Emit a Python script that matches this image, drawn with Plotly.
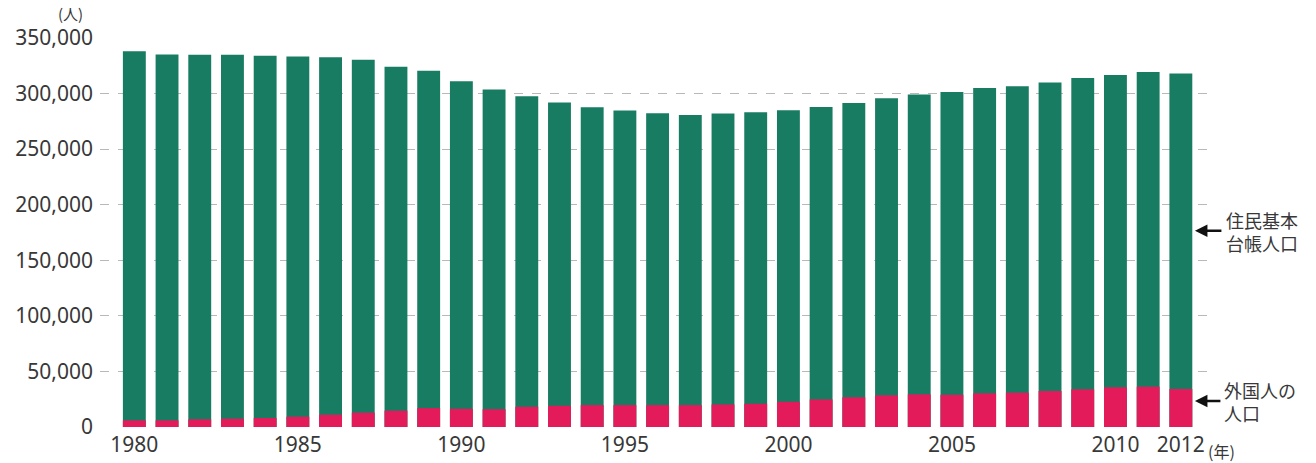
import plotly.graph_objects as go

years = list(range(1980, 2013))
total_pop = [338000, 335200, 335000, 335000, 334000, 333400, 332700, 330400, 324100, 320500,
             311100, 303600, 297600, 291900, 287700, 284700, 282300, 280800, 282000, 283200,
             285000, 288000, 291600, 295800, 299100, 301500, 305100, 306600, 309900, 314100,
             316800, 319500, 318100]
foreign_pop = [6000, 6000, 6900, 7500, 8100, 9300, 11100, 12900, 14700, 17000,
               16400, 16000, 18200, 19100, 19700, 19700, 19700, 19700, 20300, 20900,
               22700, 24800, 26700, 28500, 29400, 29000, 30300, 30900, 32400, 33900,
               35700, 36300, 34200]
x_tickvals = [1980, 1985, 1990, 1995, 2000, 2005, 2010, 2012]
y_tickvals = [0, 50000, 100000, 150000, 200000, 250000, 300000, 350000]

GREEN = "#187c62"
PINK = "#e31b5b"
TEXT = "#383838"
NUM_FONT = "Noto Sans"
JP_FONT = "Noto Sans CJK JP"

fig = go.Figure()
fig.add_trace(go.Bar(x=years, y=total_pop, marker=dict(color=GREEN, line=dict(width=0)),
                     width=0.7, name="住民基本台帳人口"))
fig.add_trace(go.Bar(x=years, y=foreign_pop, marker=dict(color=PINK, line=dict(width=0)),
                     width=0.7, name="外国人の人口"))

fig.update_layout(
    width=1316, height=463,
    barmode="overlay",
    showlegend=False,
    plot_bgcolor="white", paper_bgcolor="white",
    margin=dict(l=100, r=108, t=38, b=36, autoexpand=False),
    font=dict(family=NUM_FONT, color=TEXT, size=21),
)
fig.update_xaxes(
    range=[1978.95, 2012.83],
    tickvals=x_tickvals, ticktext=[str(v) for v in x_tickvals],
    showgrid=False, zeroline=False, showline=False, ticks="",
    tickfont=dict(family=NUM_FONT, size=21, color=TEXT),
    ticklabelstandoff=3, automargin=False,
)
fig.update_yaxes(
    range=[0, 350000],
    tickvals=y_tickvals, tickformat=",d",
    showgrid=True, gridcolor="#b8b8b8", gridwidth=1, griddash="dash",
    zeroline=False, showline=False, ticks="",
    tickfont=dict(family=NUM_FONT, size=21, color=TEXT),
    ticklabelstandoff=6, automargin=False,
)

annots = [
    dict(text="(人)", xref="paper", yref="paper", x=-0.027, y=1.0, xanchor="center",
         yanchor="bottom", yshift=12, showarrow=False, font=dict(family=JP_FONT, size=15, color=TEXT)),
    dict(text="(年)", xref="paper", yref="paper", x=0.9985, y=0, xanchor="left",
         yanchor="top", yshift=-10, showarrow=False, font=dict(family=JP_FONT, size=16, color=TEXT)),
    dict(text="住民基本<br>台帳人口", xref="paper", yref="y", x=1.0145, y=176000, xanchor="left",
         yanchor="middle", align="left", showarrow=False,
         font=dict(family=JP_FONT, size=18, color=TEXT)),
    dict(text="外国人の<br>人口", xref="paper", yref="y", x=1.0125, y=22500, xanchor="left",
         yanchor="middle", align="left", showarrow=False,
         font=dict(family=JP_FONT, size=18, color=TEXT)),
    dict(text="", x=2012.43, y=176600, xref="x", yref="y", ax=28, ay=0, showarrow=True,
         arrowhead=2, arrowsize=1, arrowwidth=2.5, arrowcolor="#111111"),
    dict(text="", x=2012.43, y=23400, xref="x", yref="y", ax=27, ay=0, showarrow=True,
         arrowhead=2, arrowsize=1, arrowwidth=2.5, arrowcolor="#111111"),
]
fig.update_layout(annotations=annots)

fig.write_html("out.html")
